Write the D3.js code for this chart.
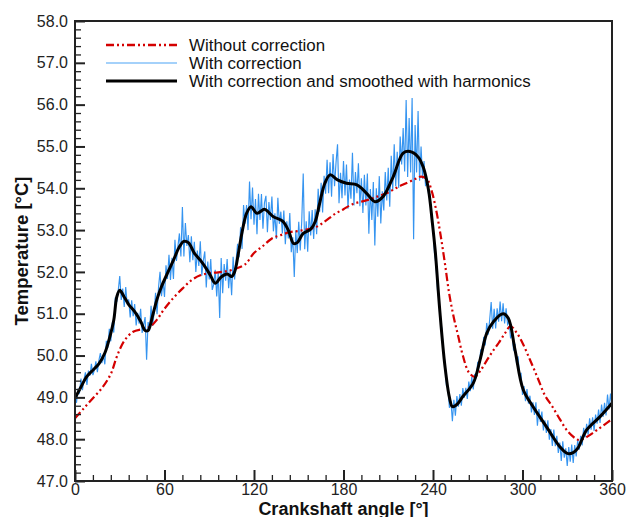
<!DOCTYPE html>
<html>
<head>
<meta charset="utf-8">
<script src="https://cdn.jsdelivr.net/npm/d3@7"></script>
<style>
  body { margin: 0; background: #fff; }
  svg { display: block; font-family: "Liberation Sans", Arial, sans-serif; }
</style>
</head>
<body>
<svg id="chart" width="627" height="517"></svg>
<script>
// ---- data ----
// without correction (angle, temperature)
const redAngles = [0, 6, 12, 18, 24, 28, 33, 39, 45, 50, 55, 60, 66, 72, 78, 84, 90, 96, 102, 108, 114, 120, 126, 132, 138, 144, 150, 156, 162, 168, 174, 180, 186, 192, 198, 204, 210, 216, 222, 228, 232, 236, 239, 242, 245, 248, 251, 254, 257, 260, 264, 268, 272, 276, 280, 284, 288, 292, 296, 300, 305, 310, 315, 320, 325, 330, 335, 338, 342, 346, 350, 355, 360]
const redTemps = [48.50, 48.74, 48.98, 49.22, 49.56, 49.97, 50.35, 50.57, 50.63, 50.68, 50.86, 51.12, 51.38, 51.60, 51.80, 51.92, 51.97, 51.99, 52.02, 52.08, 52.18, 52.45, 52.62, 52.80, 52.88, 52.95, 52.98, 53.02, 53.08, 53.22, 53.38, 53.50, 53.62, 53.68, 53.74, 53.82, 53.90, 54.02, 54.12, 54.22, 54.28, 54.22, 53.95, 53.50, 52.90, 52.20, 51.45, 50.90, 50.45, 50.00, 49.60, 49.49, 49.65, 49.88, 50.10, 50.30, 50.52, 50.70, 50.55, 50.30, 49.90, 49.48, 49.05, 48.78, 48.48, 48.20, 48.03, 47.98, 48.03, 48.12, 48.22, 48.35, 48.48]

// with correction and smoothed with harmonics
const blackAngles = [0, 4, 8, 12, 16, 20, 23, 26, 28, 30, 33, 36, 40, 44, 47, 49, 52, 55, 58, 62, 66, 70, 73, 76, 80, 84, 88, 91, 94, 98, 102, 105, 107, 109.5, 112, 115, 118, 122, 127, 130, 133, 139, 143, 146.5, 149, 153, 158, 161, 164, 167.5, 171, 176, 182, 189, 195.5, 201, 206.5, 213, 220, 224.5, 230, 233.5, 237, 239.5, 241.5, 244.5, 248, 251, 253, 256, 260, 267, 271.5, 276, 280.5, 287, 290.5, 295, 300.5, 307, 316, 325, 330, 334, 337, 343, 352, 360]
const blackTemps = [48.98, 49.25, 49.50, 49.65, 49.80, 50.06, 50.40, 50.85, 51.40, 51.56, 51.40, 51.22, 51.05, 50.82, 50.60, 50.60, 50.95, 51.35, 51.65, 51.97, 52.28, 52.60, 52.73, 52.70, 52.45, 52.28, 52.08, 51.90, 51.73, 51.88, 51.95, 51.89, 52.00, 52.44, 52.95, 53.40, 53.56, 53.40, 53.50, 53.42, 53.32, 53.22, 53.00, 52.68, 52.70, 52.92, 53.02, 53.20, 53.64, 54.12, 54.32, 54.20, 54.12, 54.08, 53.88, 53.68, 53.80, 54.25, 54.84, 54.88, 54.75, 54.50, 53.96, 53.20, 52.50, 51.10, 49.75, 49.00, 48.78, 48.83, 49.02, 49.34, 49.89, 50.53, 50.81, 51.00, 50.89, 50.13, 49.18, 48.78, 48.30, 47.82, 47.66, 47.68, 47.78, 48.22, 48.54, 48.86]

// with correction, one reading per degree from 0 to 360
const blueTemps = [
  49.10, 48.87, 49.18, 49.11, 49.45, 49.17, 49.42, 49.60, 49.30, 49.64,
  49.52, 49.80, 49.53, 49.65, 49.86, 49.60, 49.88, 50.06, 49.82, 50.01,
  49.79, 50.35, 50.19, 50.64, 50.34, 50.79, 50.55, 51.39, 51.28, 51.56,
  51.90, 51.33, 51.60, 51.16, 51.64, 51.22, 51.34, 50.91, 51.32, 50.94,
  51.23, 50.72, 51.02, 50.76, 51.12, 50.54, 50.73, 50.92, 49.90, 50.80,
  50.60, 51.19, 50.71, 51.00, 51.50, 50.99, 51.63, 52.00, 51.42, 51.78,
  51.40, 52.16, 51.83, 52.41, 51.81, 52.34, 51.83, 52.77, 52.26, 52.61,
  52.92, 52.37, 53.55, 52.37, 53.17, 52.62, 52.88, 52.23, 52.85, 52.28,
  52.72, 52.00, 52.51, 52.14, 52.73, 51.91, 52.27, 52.49, 51.63, 52.25,
  51.82, 52.31, 51.57, 51.70, 52.05, 51.41, 51.98, 50.90, 52.33, 51.49,
  52.19, 51.79, 52.31, 51.61, 52.05, 51.44, 52.36, 51.82, 52.27, 52.67,
  52.35, 53.07, 52.55, 53.60, 53.15, 53.60, 53.00, 54.16, 53.26, 54.02,
  53.13, 53.74, 52.90, 53.87, 53.24, 53.86, 53.03, 53.65, 53.82, 52.95,
  53.67, 53.24, 53.80, 52.97, 53.40, 52.79, 53.77, 53.15, 53.44, 52.92,
  53.47, 52.66, 53.21, 52.80, 53.41, 52.47, 52.83, 51.88, 52.99, 52.45,
  53.20, 52.51, 53.21, 54.35, 52.54, 53.21, 52.48, 53.45, 52.87, 53.48,
  52.79, 53.50, 52.90, 53.99, 53.44, 54.13, 53.42, 54.30, 53.87, 54.68,
  53.88, 54.62, 53.80, 54.82, 54.05, 54.62, 55.05, 53.64, 54.37, 53.76,
  54.65, 53.83, 54.57, 53.51, 54.21, 53.75, 54.85, 53.59, 54.39, 53.88,
  54.60, 53.57, 54.24, 53.41, 54.32, 53.59, 54.35, 52.91, 53.98, 53.24,
  54.15, 52.63, 54.00, 53.32, 54.29, 53.16, 53.93, 53.47, 54.39, 53.71,
  54.49, 53.56, 54.78, 53.95, 55.05, 54.04, 54.87, 54.01, 55.24, 54.57,
  55.44, 54.40, 56.11, 54.27, 55.68, 54.38, 56.16, 52.78, 55.51, 54.38,
  55.85, 54.18, 55.00, 54.23, 54.65, 54.05, 54.22, 53.86, 53.85, 53.27,
  53.05, 52.45, 52.18, 51.57, 51.35, 50.85, 50.63, 50.05, 49.85, 49.28,
  49.22, 48.75, 48.92, 48.43, 48.94, 48.56, 49.03, 48.78, 49.08, 48.80,
  49.22, 48.99, 49.23, 48.96, 49.38, 49.15, 49.49, 49.19, 49.56, 49.46,
  49.85, 49.72, 50.15, 50.01, 50.45, 50.24, 50.78, 50.50, 50.86, 51.28,
  50.64, 51.12, 50.65, 51.13, 50.81, 51.29, 50.82, 51.25, 50.77, 51.13,
  50.75, 50.83, 50.41, 50.54, 50.12, 50.28, 49.81, 49.98, 49.51, 49.59,
  49.06, 49.27, 48.91, 49.20, 48.85, 49.04, 48.64, 48.88, 48.58, 48.88,
  48.32, 48.72, 48.41, 48.66, 48.21, 48.45, 48.15, 48.45, 47.99, 48.24,
  47.84, 48.23, 47.83, 48.08, 47.67, 47.92, 47.48, 47.95, 47.56, 47.78,
  47.36, 47.81, 47.46, 47.87, 47.43, 47.86, 47.59, 47.98, 47.75, 48.08,
  47.85, 48.27, 48.05, 48.37, 48.11, 48.50, 48.23, 48.52, 48.20, 48.59,
  48.37, 48.71, 48.39, 48.83, 48.53, 48.87, 48.57, 49.07, 48.71, 49.09, 48.81
]

const xTicks = [0, 60, 120, 180, 240, 300, 360]
const yTicks = [47, 48, 49, 50, 51, 52, 53, 54, 55, 56, 57, 58]
const legendLabels = ["Without correction", "With correction", "With correction and smoothed with harmonics"]

// ---- layout ----
const svg = d3.select("#chart")
const plotLeft = 75, plotRight = 612, plotTop = 21, plotBottom = 481

const x = d3.scaleLinear().domain([0, 360]).range([plotLeft, plotRight])
const y = d3.scaleLinear().domain([47, 58]).range([plotBottom, plotTop])

const clip = svg.append("clipPath").attr("id", "plotclip")
clip.append("rect").attr("x", plotLeft).attr("y", plotTop).attr("width", plotRight - plotLeft).attr("height", plotBottom - plotTop)

let plot = svg.append("g").attr("clip-path", "url(#plotclip)")

// blue, noisy
plot.append("path")
    .datum(blueTemps)
    .attr("fill", "none")
    .attr("stroke", "#1f88ee")
    .attr("stroke-opacity", 0.9)
    .attr("stroke-width", 1.15)
    .attr("d", d3.line().x((d, i) => x(i)).y(d => y(d)))

// red dash-dot-dot
plot.append("path")
    .datum(redAngles.map((a, i) => [a, redTemps[i]]))
    .attr("fill", "none")
    .attr("stroke", "#d40000")
    .attr("stroke-width", 2.2)
    .attr("stroke-dasharray", "8,3,2,3,2,3")
    .attr("d", d3.line().x(d => x(d[0])).y(d => y(d[1])).curve(d3.curveCatmullRom))

// black smooth
plot.append("path")
    .datum(blackAngles.map((a, i) => [a, blackTemps[i]]))
    .attr("fill", "none")
    .attr("stroke", "#000")
    .attr("stroke-width", 3)
    .attr("stroke-linejoin", "round")
    .attr("d", d3.line().x(d => x(d[0])).y(d => y(d[1])).curve(d3.curveCatmullRom))

// AXES
const minorX = d3.range(0, 361, 12).filter(v => v % 60 != 0)
const minorY = d3.range(470, 581, 2).map(v => v / 10).filter(v => Math.abs(v - Math.round(v)) > 0.01)

svg.append("g")
    .attr("transform", "translate(0," + plotBottom + ")")
    .call(d3.axisBottom(x).tickValues(xTicks).tickSize(-11).tickPadding(3).tickFormat(d3.format("d")))
    .call(g => g.select(".domain").remove())
    .call(g => g.selectAll("line").attr("stroke", "#222").attr("stroke-width", 2))
    .call(g => g.selectAll("text").attr("font-size", 16).attr("fill", "#222").attr("font-family", "Liberation Sans, Arial, sans-serif"))

svg.append("g")
    .attr("transform", "translate(0," + plotBottom + ")")
    .call(d3.axisBottom(x).tickValues(minorX).tickSize(-6).tickFormat(""))
    .call(g => g.select(".domain").remove())
    .call(g => g.selectAll("line").attr("stroke", "#222").attr("stroke-width", 1.3))

svg.append("g")
    .attr("transform", "translate(" + plotLeft + ",0)")
    .call(d3.axisLeft(y).tickValues(yTicks).tickSize(-10).tickPadding(7).tickFormat(d3.format(".1f")))
    .call(g => g.select(".domain").remove())
    .call(g => g.selectAll("line").attr("stroke", "#222").attr("stroke-width", 2))
    .call(g => g.selectAll("text").attr("font-size", 16).attr("fill", "#222").attr("font-family", "Liberation Sans, Arial, sans-serif"))

svg.append("g")
    .attr("transform", "translate(" + plotLeft + ",0)")
    .call(d3.axisLeft(y).tickValues(minorY).tickSize(-6).tickFormat(""))
    .call(g => g.select(".domain").remove())
    .call(g => g.selectAll("line").attr("stroke", "#222").attr("stroke-width", 1.3))
// END AXES

// frame
svg.append("rect")
    .attr("x", plotLeft).attr("y", plotTop)
    .attr("width", plotRight - plotLeft).attr("height", plotBottom - plotTop)
    .attr("fill", "none").attr("stroke", "#222").attr("stroke-width", 2)

// axis titles
svg.append("text")
    .text("Crankshaft angle [°]")
    .attr("x", (plotLeft + plotRight) / 2)
    .attr("y", 514.5)
    .style("text-anchor", "middle")
    .style("font-weight", "bold")
    .attr("font-size", 18)
    .attr("fill", "#111")

svg.append("text")
    .text("Temperature [°C]")
    .attr("transform", "translate(28," + ((plotTop + plotBottom) / 2) + ") rotate(-90)")
    .style("text-anchor", "middle")
    .style("font-weight", "bold")
    .attr("font-size", 18.5)
    .attr("fill", "#111")

// legend
const legend_g = svg.append("g").attr("id", "legend_g")
const legendStyles = [
    {stroke: "#d40000", width: 2.5, dash: "8,3,2,3,2,3"},
    {stroke: "#4aa3f5", width: 1.2, dash: null},
    {stroke: "#000", width: 3, dash: null}
]
legendLabels.forEach((label, i) => {
    let ly = 45 + i * 18
    legend_g.append("line")
        .attr("x1", 106).attr("x2", 177)
        .attr("y1", ly).attr("y2", ly)
        .attr("stroke", legendStyles[i].stroke)
        .attr("stroke-width", legendStyles[i].width)
        .attr("stroke-dasharray", legendStyles[i].dash)
    legend_g.append("text")
        .text(label)
        .attr("x", 189)
        .attr("y", ly + 6)
        .attr("font-size", 16.9)
        .attr("fill", "#111")
})
</script>
</body>
</html>
